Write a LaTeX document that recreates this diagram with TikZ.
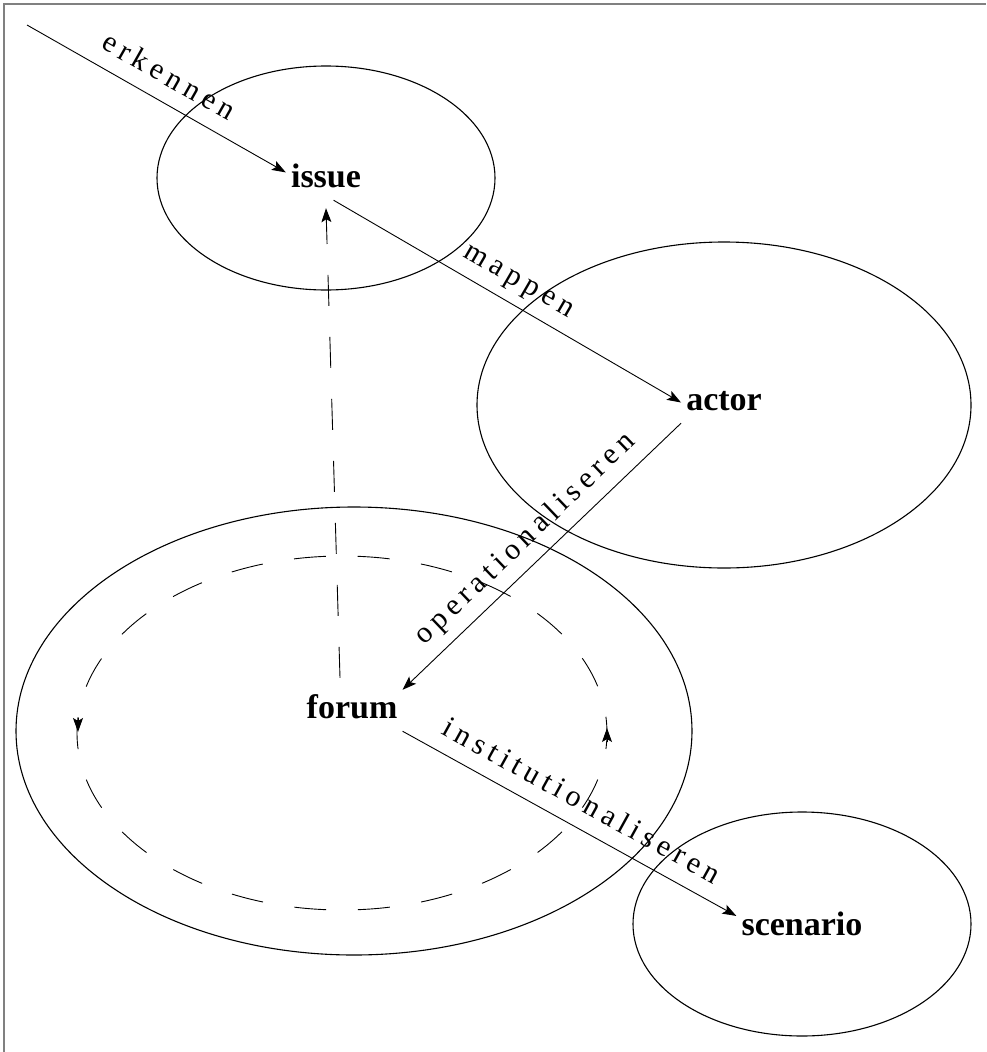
\documentclass[tikz,border=0pt]{standalone}
\usepackage{fontspec}
\setmainfont{Liberation Serif}
\usetikzlibrary{arrows.meta}
\begin{document}
\begin{tikzpicture}[x=1pt,y=-1pt,
  concept/.style={font=\fontsize{34}{40}\selectfont\bfseries, inner sep=5pt, text height=23pt, text depth=8pt, anchor=base},
  ring/.style={line width=1.1pt},
  tipstyle/.style={-{Stealth[length=14pt,width=10pt,inset=3pt]}},
  conn/.style={line width=0.9pt, tipstyle},
  dashconn/.style={line width=0.9pt, tipstyle, dash pattern=on 31pt off 31pt},
  cycle ring/.style={line width=0.9pt, dash pattern=on 32pt off 31.74pt, dash phase=16pt},
  lbl/.style={sloped, above=16pt, inner sep=0pt, text depth=0pt, font=\fontsize{30}{34}\selectfont\addfontfeature{LetterSpace=18}},
  frameline/.style={draw=gray, line width=2pt}
]
\useasboundingbox (0,0) rectangle (986,1052);
\draw[frameline] (3.5,1052) -- (3.5,3.5) -- (986,3.5);

% ellipses
\draw[ring] (326,178) ellipse [x radius=169, y radius=112];
\draw[ring] (724,405) ellipse [x radius=247, y radius=163];
\draw[ring] (354,731) ellipse [x radius=338, y radius=224];
\draw[ring] (802,924) ellipse [x radius=169, y radius=112];
\draw[cycle ring] (342,733) ellipse [x radius=265, y radius=177];
\draw[conn] (78,718) -- (78,732);
\draw[conn] (607,742) -- (607,728);

% concept nodes
\node[concept] (issue) at (326,187) {issue};
\node[concept] (actor) at (724,410) {actor};
\node[concept] (forum) at (352,718) {forum};
\node[concept] (scenario) at (802,935) {scenario};
\coordinate (entry) at (27,25);

% connectors
\draw[conn] (entry) -- (issue.170) node[lbl, midway] {erkennen};
\draw[conn] (issue.-70) -- (actor.west) node[lbl, midway] {mappen};
\draw[conn] (actor.south west) -- (forum.north east) node[lbl, midway] {operationaliseren};
\draw[conn] (forum.south east) -- (scenario.170) node[lbl, midway] {institutionaliseren};
\draw[dashconn] ([xshift=-12pt,yshift=12pt]forum.north) -- ([yshift=-8pt]issue.south);
\end{tikzpicture}
\end{document}
